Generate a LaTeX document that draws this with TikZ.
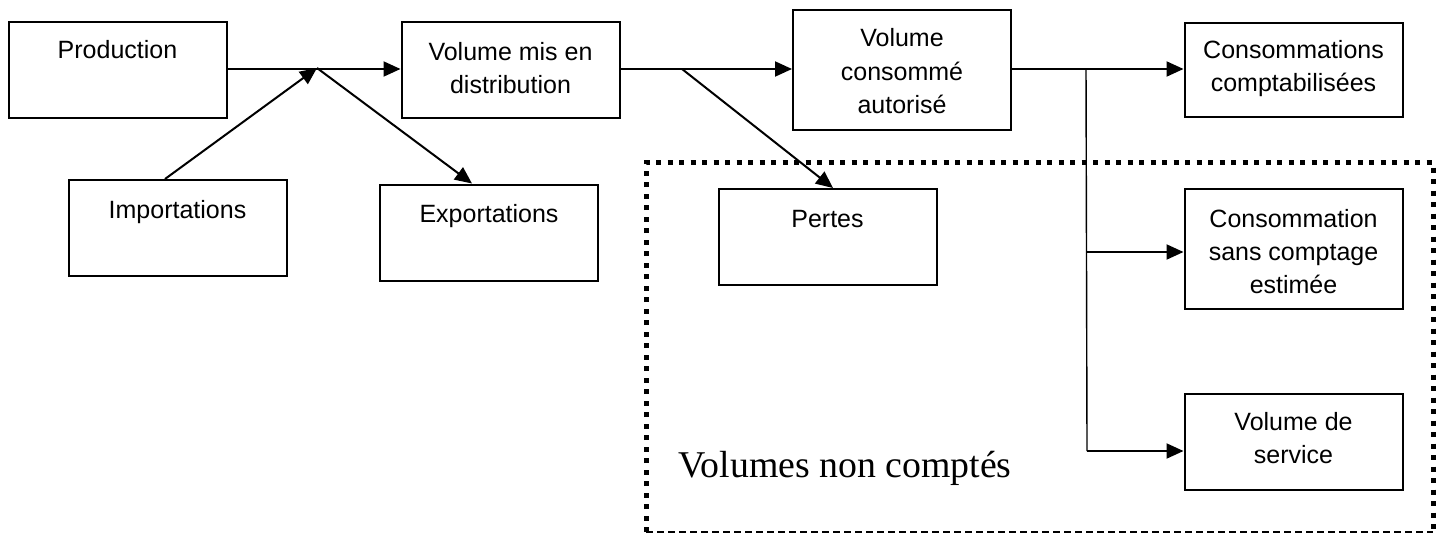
\documentclass[tikz,border=0pt]{standalone}
\usepackage{fontspec}
\setmainfont{Liberation Serif}
\newfontfamily\boxfont{Liberation Sans}
\usetikzlibrary{arrows.meta,calc}
\tikzset{
  box/.style={draw, line width=1pt, inner sep=0pt, minimum width=109pt, minimum height=48pt},
  tallbox/.style={box, minimum height=60pt},
  txt/.style={anchor=base, inner sep=0pt, align=center, font=\boxfont\fontsize{12.5pt}{16.5pt}\selectfont},
  conn/.style={line width=1pt, -{Triangle[length=8.5pt,width=7.5pt]}},
  thin/.style={line width=0.7pt},
  dotline/.style={line width=2.5pt, dash pattern=on 2.5pt off 3.25pt},
  dashline/.style={line width=0.75pt, dash pattern=on 3.5pt off 2pt}
}
\begin{document}
\begin{tikzpicture}[x=0.5pt,y=-0.5pt]
\useasboundingbox (0,0) rectangle (1443,535);
% boxes
\node[box] (prod) at (117.5,70) {};
\node[box] (imp) at (177.5,228) {};
\node[box] (vmd) at (510.5,70) {};
\node[box] (exp) at (489,232.5) {};
\node[tallbox] (vca) at (902,70) {};
\node[box] (per) at (827.5,237) {};
\node[box, minimum height=47pt] (cc) at (1293.5,70) {};
\node[tallbox] (csc) at (1293.5,249) {};
\node[box] (vs) at (1293.5,442) {};
% texts (anchor base = baseline of last line)
\node[txt] (prodt) at ([yshift=-19pt]prod.north) {Production};
\node[txt] (impt) at ([yshift=-19.5pt]imp.north) {Importations};
\node[txt] (vmdt) at ([yshift=-36pt]vmd.north) {Volume mis en\\distribution};
\node[txt] (expt) at ([yshift=-19.5pt]exp.north) {Exportations};
\node[txt] (vcat) at ([yshift=-52pt]vca.north) {Volume\\consommé\\autorisé};
\node[txt] (pert) at ([yshift=-19.5pt]per.north) {Pertes};
\node[txt] (cct) at ([yshift=-34.5pt]cc.north) {Consommations\\comptabilisées};
\node[txt] (csct) at ([yshift=-52.5pt]csc.north) {Consommation\\sans comptage\\estimée};
\node[txt] (vst) at ([yshift=-35pt]vs.north) {Volume de\\service};
% dotted region
\coordinate (dtl) at (646,162.5);
\coordinate (dtr) at (1433,162.5);
\coordinate (dbl) at (646,532);
\coordinate (dbr) at (1433,532);
\draw[dotline] (dbl) -- (dtl) -- (dtr) -- (dbr);
\draw[dashline] (dbl) -- (dbr);
\node[anchor=base west, inner sep=0pt, font=\fontsize{18.9pt}{22pt}\selectfont] (vnc) at (678,477) {Volumes non comptés};
% connectors
\coordinate (j1) at (317,68);
\coordinate (j2) at (682,69);
\coordinate (j3) at (1086,69);
\coordinate (b1) at (1087,252);
\coordinate (b2) at (1087,451);
\draw[conn] (prod.east |- 0,69) -- (vmd.west |- 0,69);
\draw[conn] ($(imp.north)+(-12.5,0)$) -- (j1);
\draw[conn] (j1) -- ($(exp.north)+(-17,0)$);
\draw[conn] (vmd.east |- 0,69) -- (vca.west |- 0,69);
\draw[conn] (j2) -- ($(per.north)+(5.5,0)$);
\draw[conn] (vca.east |- 0,69) -- (cc.west |- 0,69);
\draw[thin] (j3) -- (b2);
\draw[conn] (b1) -- (b1 -| csc.west);
\draw[conn] (b2) -- (b2 -| vs.west);
\end{tikzpicture}
\end{document}
